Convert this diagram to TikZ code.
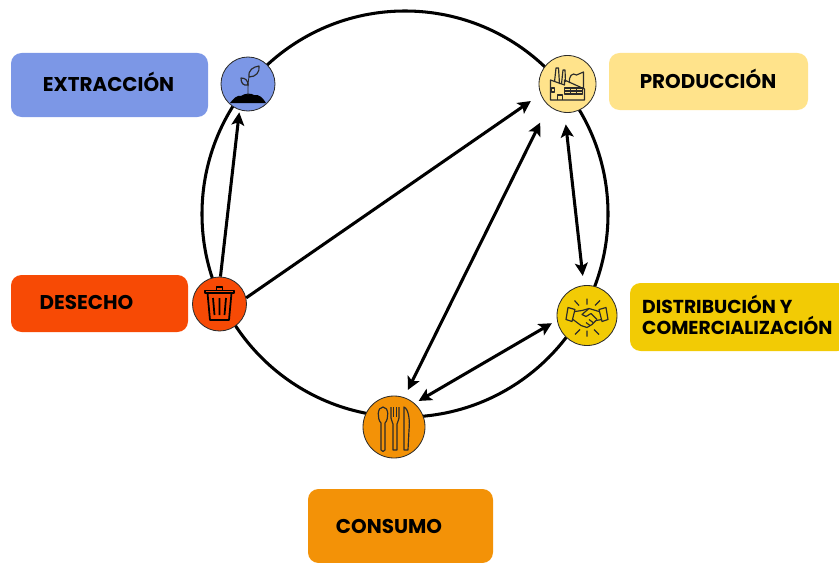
\documentclass[tikz,border=0pt]{standalone}
\usepackage{fontspec}
\setmainfont{Poppins}
\usepackage{tikz}
\usetikzlibrary{arrows.meta}
\definecolor{extcol}{HTML}{7C97E6}
\definecolor{prodcol}{HTML}{FFE38B}
\definecolor{distcol}{HTML}{F2CB05}
\definecolor{conscol}{HTML}{F39207}
\definecolor{descol}{HTML}{F74A05}
\definecolor{inkcol}{HTML}{2B2B2B}
\tikzset{
	stage/.style={circle,draw=inkcol,line width=0.7pt,inner sep=0pt,minimum size=#1*0.06cm},
	tag/.style={rounded corners=9pt,draw=none},
	tagtext/.style={font=\fontsize{17}{20}\selectfont\bfseries,inner sep=0pt,align=left},
	link/.style={line width=2.6pt,-{Stealth[length=11pt,width=11pt,inset=2.5pt]}},
	dlink/.style={line width=2.6pt,{Stealth[length=11pt,width=11pt,inset=2.5pt]}-{Stealth[length=11pt,width=11pt,inset=2.5pt]}},
	icon/.style={draw=inkcol,line width=1pt,line join=round}
}
\begin{document}
\begin{tikzpicture}[x=0.03cm,y=-0.03cm]
\useasboundingbox (0,0) rectangle (839,563);
%ring
\draw[line width=2.6pt] (405,214) circle (6.09cm);
%tags
\fill[tag,extcol] (11,53) rectangle (208,117);
\fill[tag,prodcol] (609,53) rectangle (808,110);
\fill[tag,descol] (11,275) rectangle (188,332);
\fill[tag,distcol] (630,283) rectangle (848,351);
\fill[tag,conscol] (308,489) rectangle (493,563);
\node[tagtext] (extlabel) at (108.5,81.5) {EXTRACCIÓN};
\node[tagtext] (prodlabel) at (708,78.5) {PRODUCCIÓN};
\node[tagtext] (deslabel) at (86.5,302) {DESECHO};
\node[tagtext,anchor=west,font=\fontsize{16}{17.9}\selectfont\bfseries] (distlabel) at (642,315) {DISTRIBUCIÓN Y\\COMERCIALIZACIÓN};
\node[tagtext] (conslabel) at (389,526) {CONSUMO};
%stages
\node[stage=27,fill=extcol] (ext) at (248,84) {};
\node[stage=28.5,fill=prodcol] (prod) at (567.5,84) {};
\node[stage=30,fill=distcol] (dist) at (587,315.5) {};
\node[stage=31,fill=conscol] (cons) at (394,427) {};
\node[stage=27,fill=descol] (des) at (219.5,304) {};
%links
\draw[link,shorten >=2pt] (des.88) -- (ext.252);
\draw[link,shorten >=10pt] (des.13) -- (prod.201);
\draw[dlink,shorten <=7pt,shorten >=16pt] (cons.71) -- (prod.229);
\draw[dlink,shorten <=10pt,shorten >=8pt] (prod.264) -- (dist.96);
\draw[dlink,shorten <=4pt,shorten >=5pt] (cons.49) -- (dist.189);
%sprout
\begin{scope}[shift={(248,84)}]
	\fill[black] (-18,19) .. controls (-14,14) and (-11,11) .. (-7,12) .. controls (-3,9) and (3,9) .. (6,11) .. controls (11,10) and (15,14) .. (18,19) -- cycle;
	\draw[icon,line width=0.7pt] (0,11) .. controls (0,3) and (0,-3) .. (1,-7);
	\draw[icon] (1,-7) .. controls (0,-14) and (5,-17) .. (11,-18) .. controls (12,-12) and (8,-7) .. (1,-7) -- cycle;
	\draw[icon] (0,1) .. controls (-5,2) and (-7,-1) .. (-7,-6) .. controls (-3,-6) and (0,-4) .. (0,1) -- cycle;
\end{scope}
%factory
\begin{scope}[shift={(567.5,84)}]
	\draw[icon] (-17,16) -- (-17,-4) -- (-3,1) -- (-3,-4) -- (17,5) -- (17,16) -- cycle;
	\draw[icon] (-13,-2) -- (-11.5,-16) -- (-9,-16) -- (-8,0);
	\draw[icon] (-6,0) -- (-4.5,-14) -- (-2.5,-14) -- (-2,-2);
	\draw[icon] (2,-1) .. controls (1,-8) and (5,-12) .. (9,-9) -- (16,-12) -- (16,4);
	\draw[icon] (-3,4) rectangle (15,10);
	\draw[icon] (3,4) -- (3,10) (9,4) -- (9,10) (-3,7) -- (15,7);
	\draw[icon] (-10,16) -- (-10,11) -- (-5,11) -- (-5,16);
	\draw[icon] (-16,4) rectangle (-13,8);
\end{scope}
%handshake
\begin{scope}[shift={(587,315.5)}]
	\draw[icon] (-19,-8) -- (-12,-6) -- (-15,6) -- (-21,4) -- cycle;
	\draw[icon] (19,-8) -- (12,-6) -- (15,6) -- (21,4) -- cycle;
	\draw[icon] (-12,-4) -- (-5,-5) -- (2,-7) -- (12,-4);
	\draw[icon] (-14,4) -- (-6,10) -- (0,12) -- (5,9) -- (9,5) -- (15,4);
	\draw[icon] (2,-7) -- (-5,-1) -- (-1,1) -- (4,-2) -- (10,4);
	\draw[icon] (-1,7) -- (3,10) (2,4) -- (6,7);
	\draw[icon] (0,-17) -- (0,-11) (-12.5,-15) -- (-8,-10) (13,-15) -- (8,-10);
	\draw[icon] (0,15) -- (0,21) (-12,19) -- (-7,14) (12,19) -- (7,14);
\end{scope}
%cutlery
\begin{scope}[shift={(394,427)}]
	\draw[icon] (-11,-20) .. controls (-17,-20) and (-17,-8) .. (-13,-4) -- (-13,23) .. controls (-12,25) and (-10,25) .. (-9,23) -- (-9,-4) .. controls (-5,-8) and (-5,-20) .. (-11,-20) -- cycle;
	\draw[icon] (-3,-20) -- (-3,-9) .. controls (-3,-6) and (-1,-5) .. (-1,-3) -- (-1,23) -- (3,23) -- (3,-3) .. controls (3,-5) and (5,-6) .. (5,-9) -- (5,-20);
	\draw[icon] (-0.5,-20) -- (-0.5,-10) (2.5,-20) -- (2.5,-10);
	\draw[icon] (10,-20) .. controls (15,-18) and (16,-5) .. (15,3) -- (14,23) -- (10,23) -- cycle;
\end{scope}
%trash
\begin{scope}[shift={(219.5,304)}]
	\draw[icon,draw=black,line width=1.5pt] (-14.5,-13.5) rectangle (14.5,-11);
	\draw[icon,draw=black,line width=1.2pt] (-3,-13.5) -- (-3,-17) -- (3,-17) -- (3,-13.5);
	\draw[icon,draw=black,line width=1.5pt] (-12,-11) -- (-9.5,16) -- (9.5,16) -- (12,-11);
	\draw[icon,draw=black,line width=1.5pt] (-6.5,-6) -- (-5,11) (0,-6) -- (0,11) (6.5,-6) -- (5,11);
\end{scope}
\end{tikzpicture}
\end{document}
